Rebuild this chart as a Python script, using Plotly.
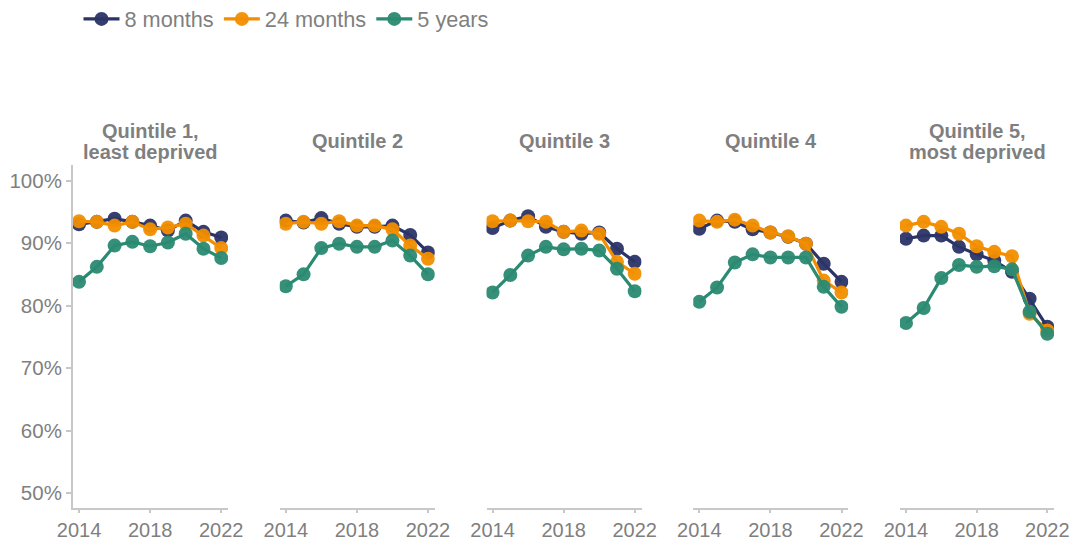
import plotly.graph_objects as go

years = [2014, 2015, 2016, 2017, 2018, 2019, 2020, 2021, 2022]
panel_titles = [["Quintile 1,", "least deprived"], ["Quintile 2"], ["Quintile 3"], ["Quintile 4"], ["Quintile 5,", "most deprived"]]
series_names = ["8 months", "24 months", "5 years"]
series_colors = ["#2b3467", "#f28e00", "#2b8a72"]

m8 = [
    [93.0, 93.4, 93.9, 93.4, 92.8, 92.0, 93.6, 91.8, 90.9],
    [93.6, 93.3, 94.0, 93.1, 92.6, 92.6, 92.8, 91.3, 88.5],
    [92.4, 93.6, 94.3, 92.6, 91.8, 91.5, 91.7, 89.1, 87.0],
    [92.3, 93.6, 93.4, 92.2, 91.7, 91.0, 89.9, 86.7, 83.8],
    [90.7, 91.2, 91.2, 89.4, 88.2, 87.2, 85.4, 81.1, 76.6],
]
m24 = [
    [93.5, 93.4, 92.8, 93.4, 92.2, 92.5, 93.1, 91.2, 89.2],
    [93.1, 93.4, 93.1, 93.5, 92.8, 92.8, 92.2, 89.6, 87.5],
    [93.5, 93.6, 93.5, 93.4, 91.8, 92.0, 91.5, 87.0, 85.1],
    [93.6, 93.4, 93.75, 92.8, 91.7, 91.1, 89.9, 84.0, 82.1],
    [92.8, 93.4, 92.6, 91.5, 89.5, 88.6, 87.9, 78.7, 76.0],
]
y5 = [
    [83.8, 86.2, 89.6, 90.2, 89.5, 90.1, 91.5, 89.1, 87.6],
    [83.1, 85.0, 89.2, 89.9, 89.4, 89.4, 90.4, 88.0, 85.0],
    [82.1, 84.9, 88.0, 89.4, 89.0, 89.1, 88.8, 85.9, 82.3],
    [80.6, 82.9, 86.9, 88.2, 87.7, 87.7, 87.7, 83.0, 79.8],
    [77.2, 79.6, 84.4, 86.5, 86.2, 86.3, 85.8, 79.0, 75.5],
]
x_ticks = [2014, 2018, 2022]
y_ticks = [50, 60, 70, 80, 90, 100]
y_labels = ["50%", "60%", "70%", "80%", "90%", "100%"]

FONT = "Liberation Sans, Arial, sans-serif"
GRAY = "#7f7f7f"
AXIS = "#c8c8c8"

# the page body adds an 8px offset, so the figure is drawn 8px smaller
W, H = 1070, 531
ML, MR, MT, MB = 65, 24, 157, 31
PLOT_H = H - MT - MB
plot_w = float(W - ML - MR)

fig = go.Figure()
all_series = [m8, m24, y5]
for p in range(5):
    xa = "x" if p == 0 else f"x{p+1}"
    ya = "y" if p == 0 else f"y{p+1}"
    for s in range(3):
        fig.add_trace(go.Scatter(
            x=years, y=all_series[s][p], mode="lines+markers",
            name=series_names[s], legendgroup=series_names[s], showlegend=(p == 0),
            line=dict(color=series_colors[s], width=3.2),
            marker=dict(color=series_colors[s], size=14, opacity=0.95),
            xaxis=xa, yaxis=ya, hoverinfo="skip"))
    d0 = 206.75 * p / plot_w
    d1 = min((155 + 206.75 * p) / plot_w, 1.0)
    xkey = "xaxis" if p == 0 else f"xaxis{p+1}"
    ykey = "yaxis" if p == 0 else f"yaxis{p+1}"
    fig.layout[xkey] = dict(domain=[d0, d1], range=[2013.66, 2022.38],
                            tickvals=x_ticks, ticks="outside", ticklen=3, tickwidth=2,
                            tickcolor=AXIS, showline=True, linecolor=AXIS, linewidth=2,
                            showgrid=False, zeroline=False, anchor=ya, automargin=False,
                            tickfont=dict(family=FONT, size=20, color=GRAY))
    fig.layout[ykey] = dict(range=[47.6, 102.5], anchor=xa, showgrid=False, zeroline=False,
                            tickvals=y_ticks, ticktext=y_labels, automargin=False,
                            showticklabels=(p == 0), ticks=("outside" if p == 0 else ""),
                            ticklen=5, tickwidth=2, tickcolor=AXIS,
                            showline=(p == 0), linecolor=AXIS, linewidth=2,
                            tickfont=dict(family=FONT, size=20.5, color=GRAY))
    lines = panel_titles[p]
    if len(lines) == 1:
        centers = [141.2]
    else:
        centers = [130.9, 151.5]
    for line_text, cy in zip(lines, centers):
        fig.add_annotation(text=f"<b>{line_text}</b>", xref="paper", yref="paper",
                           x=(d0 + d1) / 2, y=(H - MB - (cy - 8)) / PLOT_H,
                           xanchor="center", yanchor="middle", showarrow=False,
                           font=dict(family=FONT, size=20, color=GRAY))

fig.update_layout(
    width=W, height=H,
    margin=dict(l=ML, r=MR, t=MT, b=MB),
    paper_bgcolor="white", plot_bgcolor="white",
    legend=dict(orientation="h", xref="container", yref="container",
                x=70.5 / W, y=1 - 11.3 / H, xanchor="left", yanchor="middle",
                font=dict(family=FONT, size=21.7, color=GRAY),
                itemwidth=36, tracegroupgap=0),
)
fig.write_html("out.html")
